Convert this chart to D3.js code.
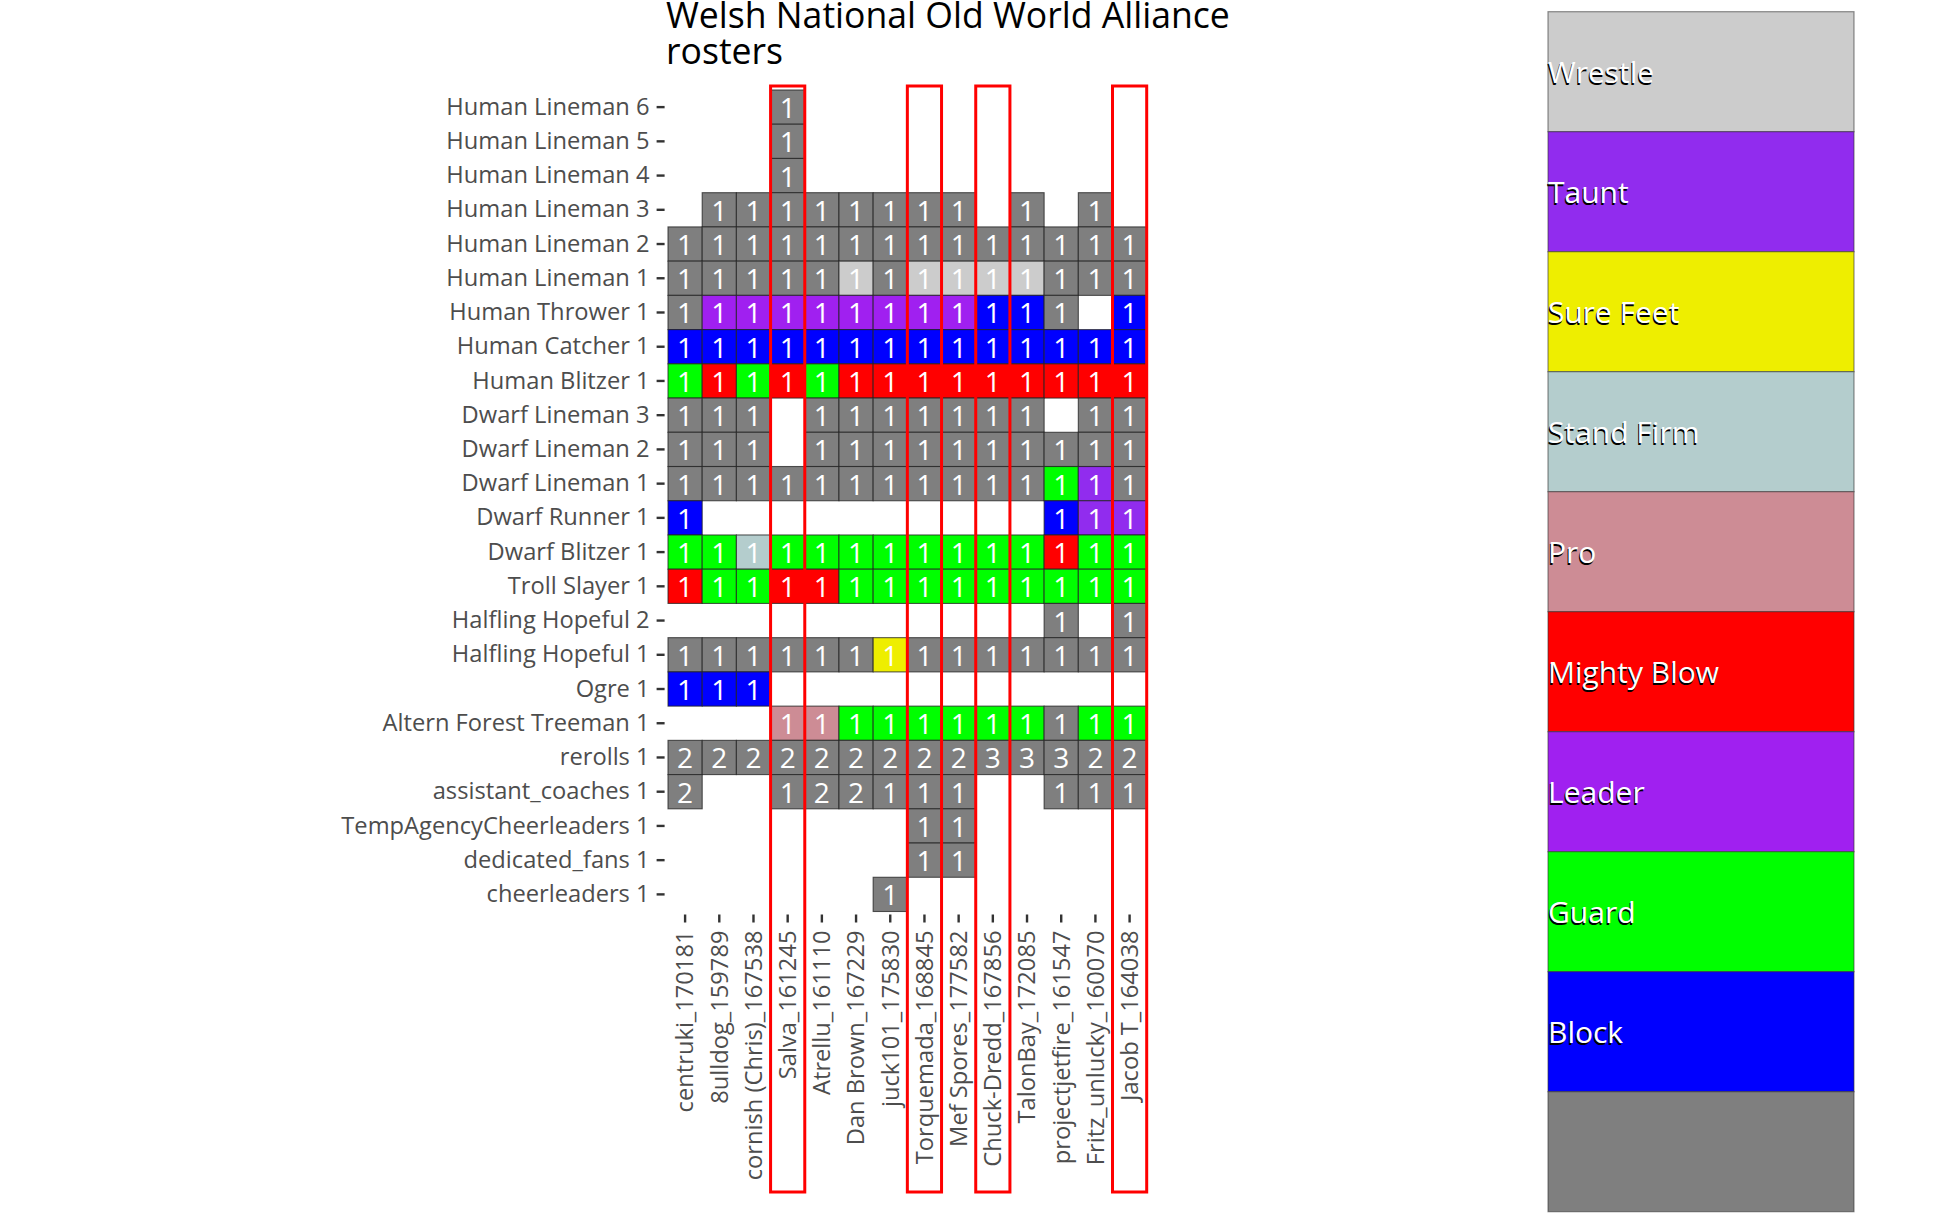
<!DOCTYPE html>
<html>
  <head>
    <meta charset="utf-8" />
    <title>Welsh National Old World Alliance rosters</title>
    <script src="https://d3js.org/d3.v7.min.js"></script>
    <style>
      body { margin: 0; background: #fff; }
      text { font-family: "Open Sans", "Noto Sans", sans-serif; }
    </style>
  </head>
  <body>
    <script>
      // coaches along the x axis
      const coaches = [
        "centruki_170181", "8ulldog_159789", "cornish (Chris)_167538", "Salva_161245",
        "Atrellu_161110", "Dan Brown_167229", "juck101_175830", "Torquemada_168845",
        "Mef Spores_177582", "Chuck-Dredd_167856", "TalonBay_172085",
        "projectjetfire_161547", "Fritz_unlucky_160070", "Jacob T_164038"
      ];
      // highlighted coaches (red boxes)
      const highlighted = ["Salva_161245", "Torquemada_168845", "Chuck-Dredd_167856", "Jacob T_164038"];

      // roster slots, top to bottom
      const positions = [
        "Human Lineman 6", "Human Lineman 5", "Human Lineman 4", "Human Lineman 3",
        "Human Lineman 2", "Human Lineman 1", "Human Thrower 1", "Human Catcher 1",
        "Human Blitzer 1", "Dwarf Lineman 3", "Dwarf Lineman 2", "Dwarf Lineman 1",
        "Dwarf Runner 1", "Dwarf Blitzer 1", "Troll Slayer 1", "Halfling Hopeful 2",
        "Halfling Hopeful 1", "Ogre 1", "Altern Forest Treeman 1", "rerolls 1",
        "assistant_coaches 1", "TempAgencyCheerleaders 1", "dedicated_fans 1", "cheerleaders 1"
      ];

      // counts per slot and coach (0 = not on roster)
      const counts = [
        [0,0,0,1,0,0,0,0,0,0,0,0,0,0],
        [0,0,0,1,0,0,0,0,0,0,0,0,0,0],
        [0,0,0,1,0,0,0,0,0,0,0,0,0,0],
        [0,1,1,1,1,1,1,1,1,0,1,0,1,0],
        [1,1,1,1,1,1,1,1,1,1,1,1,1,1],
        [1,1,1,1,1,1,1,1,1,1,1,1,1,1],
        [1,1,1,1,1,1,1,1,1,1,1,1,0,1],
        [1,1,1,1,1,1,1,1,1,1,1,1,1,1],
        [1,1,1,1,1,1,1,1,1,1,1,1,1,1],
        [1,1,1,0,1,1,1,1,1,1,1,0,1,1],
        [1,1,1,0,1,1,1,1,1,1,1,1,1,1],
        [1,1,1,1,1,1,1,1,1,1,1,1,1,1],
        [1,0,0,0,0,0,0,0,0,0,0,1,1,1],
        [1,1,1,1,1,1,1,1,1,1,1,1,1,1],
        [1,1,1,1,1,1,1,1,1,1,1,1,1,1],
        [0,0,0,0,0,0,0,0,0,0,0,1,0,1],
        [1,1,1,1,1,1,1,1,1,1,1,1,1,1],
        [1,1,1,0,0,0,0,0,0,0,0,0,0,0],
        [0,0,0,1,1,1,1,1,1,1,1,1,1,1],
        [2,2,2,2,2,2,2,2,2,3,3,3,2,2],
        [2,0,0,1,2,2,1,1,1,0,0,1,1,1],
        [0,0,0,0,0,0,0,1,1,0,0,0,0,0],
        [0,0,0,0,0,0,0,1,1,0,0,0,0,0],
        [0,0,0,0,0,0,1,0,0,0,0,0,0,0]
      ];

      // skill per cell, one letter per coach: W Wrestle, T Taunt, S Sure Feet,
      // F Stand Firm, P Pro, M Mighty Blow, L Leader, G Guard, B Block, - none
      const skillRows = [
        "...-..........", "...-..........", "...-..........", ".--------.-.-.",
        "--------------", "-----W-WWWW---", "-LLLLLLLLBB-.B", "BBBBBBBBBBBBBB",
        "GMGMGMMMMMMMMM", "---.-------.--", "---.----------", "-----------GT-",
        "B..........BTT", "GGFGGGGGGGGMGG", "MGGMMGGGGGGGGG", "...........-.-",
        "------S-------", "BBB...........", "...PPGGGGGG-GG", "--------------",
        "-..------..---", ".......--.....", ".......--.....", "......-......."
      ];

      // legend, top to bottom
      const skillCodes = ["W", "T", "S", "F", "P", "M", "L", "G", "B", "-"];
      const skillNames = ["Wrestle", "Taunt", "Sure Feet", "Stand Firm", "Pro",
                          "Mighty Blow", "Leader", "Guard", "Block", ""];
      const skillColors = ["#cccccc", "#912cee", "#eeee00", "#b4cdcd", "#cd8c95",
                           "#ff0000", "#a020f0", "#00ff00", "#0000ff", "#7f7f7f"];

      const width = 1943, height = 1224;

      const svg = d3.select("body").append("svg")
        .attr("width", width)
        .attr("height", height);

      const x = d3.scaleBand().domain(coaches).range([668, 1146.7]);
      const y = d3.scaleBand().domain(positions).range([90, 911.5]);
      const fill = d3.scaleOrdinal().domain(skillCodes).range(skillColors);

      // flatten into cells
      const cells = [];
      positions.forEach((p, i) => {
        coaches.forEach((c, j) => {
          if (counts[i][j] > 0) {
            cells.push({ pos: p, coach: c, n: counts[i][j], skill: skillRows[i][j] });
          }
        });
      });

      // title, two lines
      svg.append("text")
        .attr("x", 666).attr("y", 28)
        .attr("font-size", 35.6)
        .attr("fill", "#000")
        .text("Welsh National Old World Alliance");
      svg.append("text")
        .attr("x", 666).attr("y", 64)
        .attr("font-size", 35.6)
        .attr("fill", "#000")
        .text("rosters");

      // tiles
      svg.append("g").selectAll("rect")
        .data(cells)
        .join("rect")
        .attr("x", d => x(d.coach))
        .attr("y", d => y(d.pos))
        .attr("width", x.bandwidth())
        .attr("height", y.bandwidth())
        .attr("fill", d => fill(d.skill))
        .attr("stroke", "#222")
        .attr("stroke-opacity", 0.75)
        .attr("stroke-width", 1.1);

      svg.append("g").selectAll("text")
        .data(cells)
        .join("text")
        .attr("x", d => x(d.coach) + x.bandwidth() / 2)
        .attr("y", d => y(d.pos) + y.bandwidth() / 2)
        .attr("text-anchor", "middle")
        .attr("dominant-baseline", "central")
        .attr("font-size", 28)
        .attr("fill", "#fff")
        .text(d => d.n);

      // axes
      const yAxis = svg.append("g")
        .attr("transform", "translate(664.6,0)")
        .call(d3.axisLeft(y).tickSize(8).tickPadding(7));
      const xAxis = svg.append("g")
        .attr("transform", "translate(0,914.5)")
        .call(d3.axisBottom(x).tickSize(8).tickPadding(8));

      [yAxis, xAxis].forEach(g => {
        g.select(".domain").remove();
        g.selectAll(".tick line").attr("stroke", "#333").attr("stroke-width", 2.4);
        g.selectAll(".tick text")
          .attr("fill", "#4d4d4d")
          .attr("font-size", 23.7)
          .attr("font-family", "Open Sans, Noto Sans, sans-serif");
      });

      xAxis.selectAll(".tick text")
        .attr("transform", "rotate(-90)")
        .attr("x", -16)
        .attr("y", 0)
        .attr("dy", "0.35em")
        .attr("text-anchor", "end");

      // red boxes round selected coaches
      svg.append("g").selectAll("rect")
        .data(highlighted)
        .join("rect")
        .attr("x", d => x(d))
        .attr("y", 86)
        .attr("width", x.bandwidth())
        .attr("height", 1192 - 86)
        .attr("fill", "none")
        .attr("stroke", "#ff0000")
        .attr("stroke-width", 3);

      // legend
      const keyH = 120, keyW = 306, lx = 1548, ly = 11.7;
      const legend = svg.append("g");
      legend.selectAll("rect")
        .data(skillCodes)
        .join("rect")
        .attr("x", lx)
        .attr("y", (d, i) => ly + i * keyH)
        .attr("width", keyW)
        .attr("height", keyH)
        .attr("fill", d => fill(d))
        .attr("stroke", "#333")
        .attr("stroke-opacity", 0.55)
        .attr("stroke-width", 1.2);

      legend.selectAll("text.shadow")
        .data(skillNames)
        .join("text")
        .attr("class", "shadow")
        .attr("x", lx - 1)
        .attr("y", (d, i) => ly + i * keyH + keyH / 2 + 1.8)
        .attr("dominant-baseline", "central")
        .attr("font-size", 30)
        .attr("fill", "#000")
        .text(d => d);

      legend.selectAll("text.label")
        .data(skillNames)
        .join("text")
        .attr("class", "label")
        .attr("x", lx)
        .attr("y", (d, i) => ly + i * keyH + keyH / 2)
        .attr("dominant-baseline", "central")
        .attr("font-size", 30)
        .attr("fill", "#fff")
        .text(d => d);
    </script>
  </body>
</html>
